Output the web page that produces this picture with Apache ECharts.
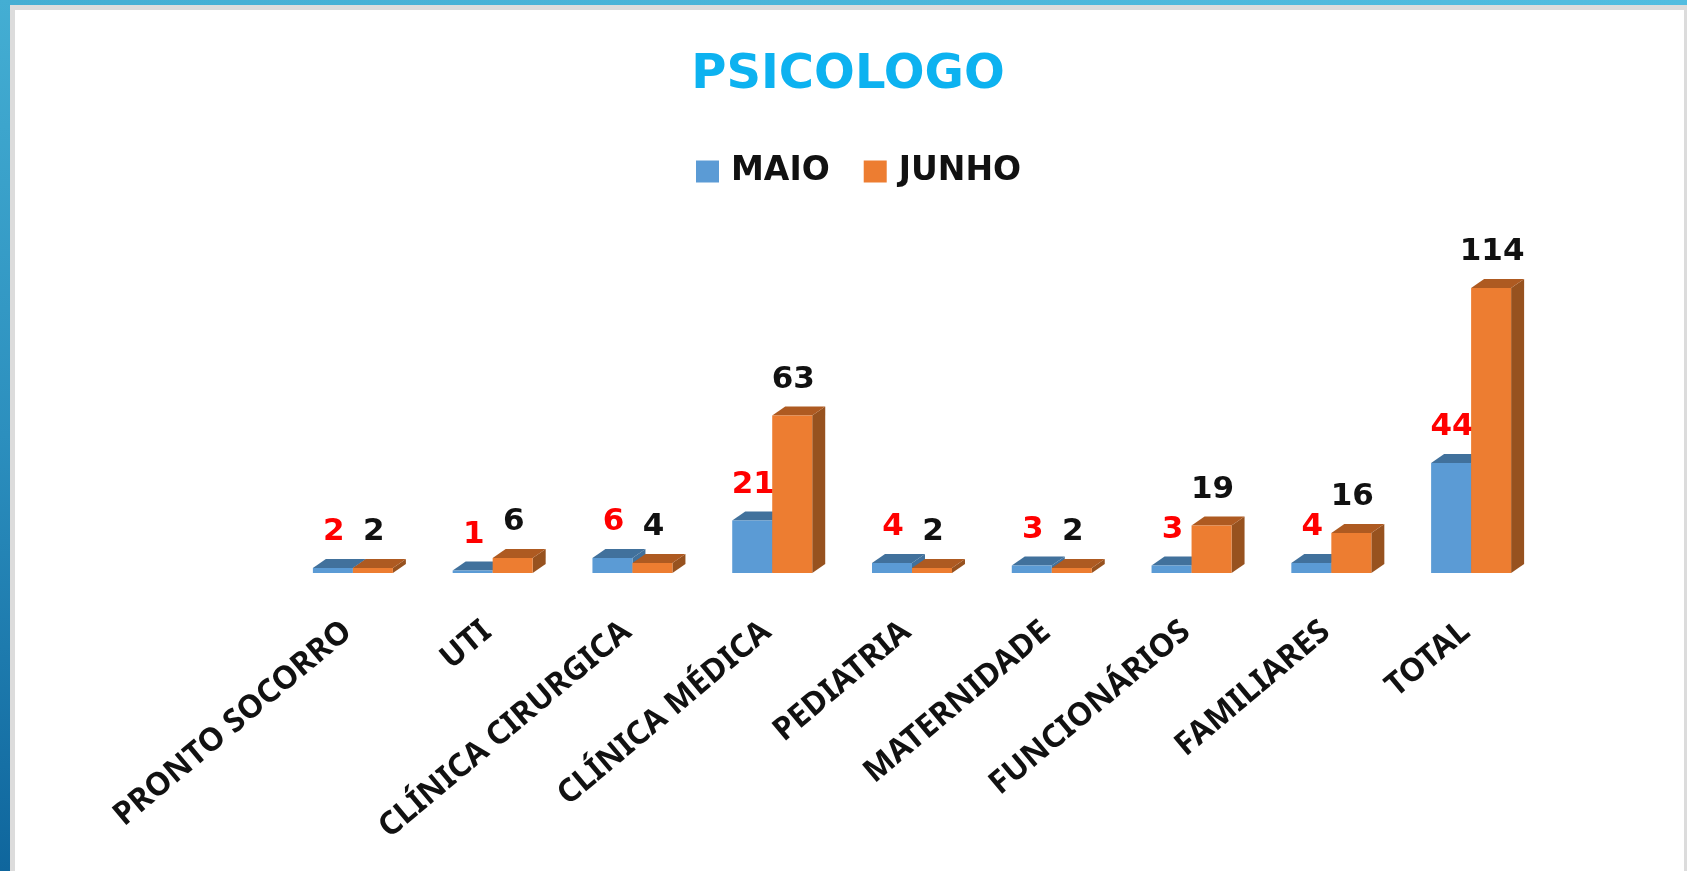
<!DOCTYPE html>
<html><head><meta charset="utf-8">
<style>html,body{margin:0;padding:0;background:#fff}#c{width:1687px;height:871px}</style>
<script src="https://cdn.jsdelivr.net/npm/echarts@6/dist/echarts.min.js"></script>
</head><body><div id="c"></div>
<script>
const categories = ['PRONTO SOCORRO','UTI','CLÍNICA CIRURGICA','CLÍNICA MÉDICA','PEDIATRIA','MATERNIDADE','FUNCIONÁRIOS','FAMILIARES','TOTAL'];
const maio = [2,1,6,21,4,3,3,4,44];
const junho = [2,6,4,63,2,2,19,16,114];
const chart = echarts.init(document.getElementById('c'), null, {renderer:'canvas'});
const DX = 13, DY = 9, BAR = 40;
function bar3d(offsetSign, front, top, side, labelColor){
  return function(params, api){
    const i = api.value(0), v = api.value(1);
    const base = api.coord([i, 0]), head = api.coord([i, v]);
    const xL = offsetSign < 0 ? base[0] - BAR : base[0];
    const xR = xL + BAR, yB = base[1], yT = head[1];
    return {type:'group', children:[
      {type:'polygon', shape:{points:[[xR,yB],[xR+DX,yB-DY],[xR+DX,yT-DY],[xR,yT]]}, style:{fill:side}},
      {type:'polygon', shape:{points:[[xL,yT],[xL+DX,yT-DY],[xR+DX,yT-DY],[xR,yT]]}, style:{fill:top}},
      {type:'rect', shape:{x:xL,y:yT,width:BAR,height:yB-yT}, style:{fill:front}},
      {type:'text', x:(xL+xR)/2+1, y:yT-DY-27, style:{text:String(v), fill:labelColor, font:'bold 31px "DejaVu Sans"', align:'center', verticalAlign:'middle'}}
    ]};
  };
}
function stripe(x,y,w,h,c){return {type:'rect',shape:{x,y,width:w,height:h},style:{fill:c},silent:true,z:-1};}
const vGrad = new echarts.graphic.LinearGradient(0,0,0,1,[{offset:0,color:'#44aed3'},{offset:0.5,color:'#2c8fbe'},{offset:1,color:'#0f669d'}]);
const hGrad = new echarts.graphic.LinearGradient(0,0,1,0,[{offset:0,color:'#44aed3'},{offset:1,color:'#52bde0'}]);
chart.setOption({
  animation:false,
  backgroundColor:'#ffffff',
  title:{text:'PSICOLOGO', left:843, textAlign:'center', top:47, textStyle:{color:'#0db2f0', fontFamily:'DejaVu Sans', fontWeight:'bold', fontSize:48}},
  legend:{top:150, left:691, itemWidth:23, itemHeight:22, itemGap:34, icon:'rect', textStyle:{color:'#111', fontFamily:'DejaVu Sans', fontWeight:'bold', fontSize:33, padding:[0,0,0,7]},
    data:[{name:'MAIO',itemStyle:{color:'#5b9bd5'}},{name:'JUNHO',itemStyle:{color:'#ed7d31'}}]},
  grid:{left:283, right:146, top:200, bottom:298, containLabel:false},
  xAxis:{type:'category', data:categories, axisLine:{show:false}, axisTick:{show:false}, splitLine:{show:false},
    axisLabel:{interval:0, rotate:40, margin:50, padding:[0,7,0,0], color:'#111', fontFamily:'Noto Sans', fontWeight:'bold', fontSize:32}},
  yAxis:{type:'value', min:0, max:149.2, show:false, splitLine:{show:false}},
  series:[
    {name:'MAIO', type:'custom', data:maio.map((v,i)=>[i,v]), encode:{x:0,y:1}, itemStyle:{color:'#5b9bd5'}, renderItem:bar3d(-1,'#5b9bd5','#41719c','#41719c','#ff0000')},
    {name:'JUNHO', type:'custom', data:junho.map((v,i)=>[i,v]), encode:{x:0,y:1}, itemStyle:{color:'#ed7d31'}, renderItem:bar3d(1,'#ed7d31','#ae5a21','#97521f','#111111')}
  ],
  graphic:[
    stripe(10,5,1677,5,'#dcdcdc'), stripe(10,5,5,866,'#dcdcdc'), stripe(1684,5,3,866,'#dcdcdc'),
    stripe(0,0,1687,5,hGrad), stripe(0,0,10,871,vGrad)
  ]
});
</script></body></html>
